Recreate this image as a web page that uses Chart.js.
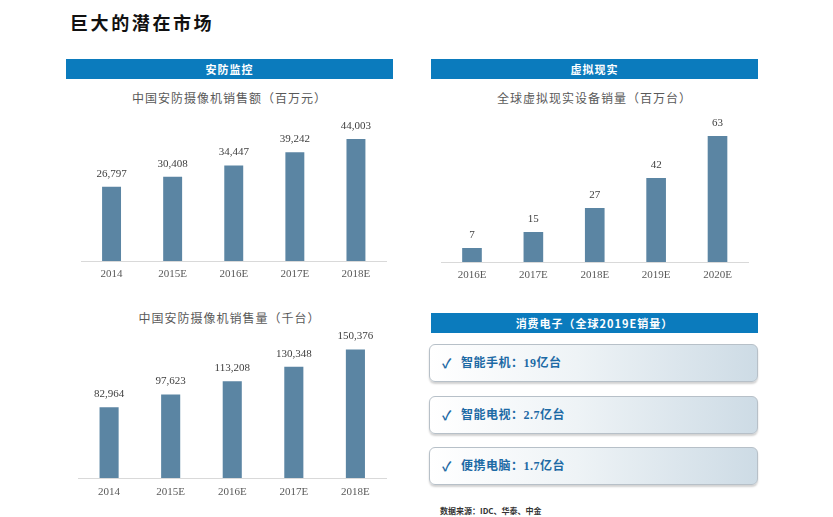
<!DOCTYPE html>
<html lang="zh">
<head>
<meta charset="utf-8">
<title>巨大的潜在市场</title>
<script src="https://cdn.jsdelivr.net/npm/chart.js@4.4.0/dist/chart.umd.min.js"></script>
<style>
  body { margin: 0; background: #fff; }
  #page { position: relative; width: 833px; height: 517px; overflow: hidden; font-family: "Noto Sans CJK SC", sans-serif; }
  .abs { position: absolute; }
  #title { left: 70px; top: 9px; font-size: 18px; font-weight: 700; letter-spacing: 2.6px; color: #111; line-height: 26px; }
  .hdr { position: absolute; height: 20px; width: 327px; background: #0b7bbd; color: #fff; font-size: 11px; font-weight: 700; text-align: center; line-height: 20px; letter-spacing: 1px; }
  .ctitle { position: absolute; width: 327px; text-align: center; font-size: 12px; line-height: 16px; color: #595959; letter-spacing: 1px; }
  .box { position: absolute; left: 429px; width: 327px; height: 36px; border: 1px solid #b7c0c8; border-radius: 6px;
         background: linear-gradient(to right, #ffffff 0%, #eef3f6 45%, #cddbe5 100%);
         box-shadow: 0 2px 2px rgba(0,0,0,0.18); }
  .box span { position: absolute; top: 0; line-height: 36px; color: #1d6aa5; font-weight: 700; }
  .box .chk { left: 12px; font-size: 13px; }
  .box .txt { left: 31px; font-size: 12px; letter-spacing: 0.5px; font-family: "Liberation Serif", "Noto Sans CJK SC", serif; }
  #src { left: 440px; top: 505px; font-size: 8px; color: #333; font-weight: 700; }
  canvas { position: absolute; }
</style>
</head>
<body>
<div id="page">
  <div id="title" class="abs">巨大的潜在市场</div>

  <div class="hdr" style="left:66px; top:59px;">安防监控</div>
  <div class="hdr" style="left:431px; top:59px;">虚拟现实</div>

  <div class="ctitle" style="left:66px; top:90px;">中国安防摄像机销售额（百万元）</div>
  <div class="ctitle" style="left:431px; top:90px;">全球虚拟现实设备销量（百万台）</div>
  <div class="ctitle" style="left:66px; top:310px;">中国安防摄像机销售量（千台）</div>

  <canvas id="c1" width="327" height="182" style="left:66px; top:110px;"></canvas>
  <canvas id="c2" width="327" height="182" style="left:431px; top:110px;"></canvas>
  <canvas id="c3" width="327" height="187" style="left:66px; top:325px;"></canvas>

  <div class="hdr" style="left:431px; top:313px;">消费电子（全球2019E销量）</div>
  <div class="box" style="top:344px;"><span class="chk">✓</span><span class="txt">智能手机：19亿台</span></div>
  <div class="box" style="top:396px;"><span class="chk">✓</span><span class="txt">智能电视：2.7亿台</span></div>
  <div class="box" style="top:447px;"><span class="chk">✓</span><span class="txt">便携电脑：1.7亿台</span></div>

  <div id="src" class="abs">数据来源：IDC、华泰、中金</div>
</div>

<script>
// data
var secYears = ['2014', '2015E', '2016E', '2017E', '2018E'];
var secRevenue = [26797, 30408, 34447, 39242, 44003];   // 百万元
var secUnits = [82964, 97623, 113208, 130348, 150376];  // 千台
var vrYears = ['2016E', '2017E', '2018E', '2019E', '2020E'];
var vrUnits = [7, 15, 27, 42, 63];                      // 百万台

var barColor = '#5b85a3';

// draws the number above every bar
var valueLabels = {
  id: 'valueLabels',
  afterDatasetsDraw: function(chart) {
    var ctx = chart.ctx;
    var meta = chart.getDatasetMeta(0);
    var data = chart.data.datasets[0].data;
    ctx.save();
    ctx.font = '11px "Liberation Serif", serif';
    ctx.fillStyle = '#404040';
    ctx.textAlign = 'center';
    ctx.textBaseline = 'middle';
    for (var i = 0; i < meta.data.length; i++) {
      var bar = meta.data[i];
      ctx.fillText(data[i].toLocaleString('en-US'), bar.x, bar.y - 13);
    }
    ctx.restore();
  }
};

function makeChart(id, labels, values, yMax, pad, tickPad, barPct) {
  var ctx = document.getElementById(id).getContext('2d');
  return new Chart(ctx, {
    type: 'bar',
    data: {
      labels: labels,
      datasets: [{
        data: values,
        backgroundColor: barColor,
        borderWidth: 0,
        categoryPercentage: 1,
        barPercentage: barPct
      }]
    },
    options: {
      responsive: false,
      animation: false,
      layout: { padding: pad },
      plugins: { legend: { display: false }, tooltip: { enabled: false } },
      scales: {
        x: {
          grid: { display: false, drawTicks: false },
          border: { color: '#d9d9d9' },
          ticks: { color: '#595959', padding: tickPad, font: { family: 'Liberation Serif', size: 11 } }
        },
        y: { display: false, min: 0, max: yMax }
      }
    },
    plugins: [valueLabels]
  });
}

makeChart('c1', secYears, secRevenue, 50000, { left: 15, right: 6.5, top: 12.4, bottom: 3.8 }, 7, 0.31);
makeChart('c2', vrYears, vrUnits, 70, { left: 10.3, right: 9.8, top: 12, bottom: 2.8 }, 7, 0.32);
makeChart('c3', secYears, secUnits, 175000, { left: 12.3, right: 6.8, top: 3.5, bottom: 4.8 }, 8, 0.31);
</script>
</body>
</html>
